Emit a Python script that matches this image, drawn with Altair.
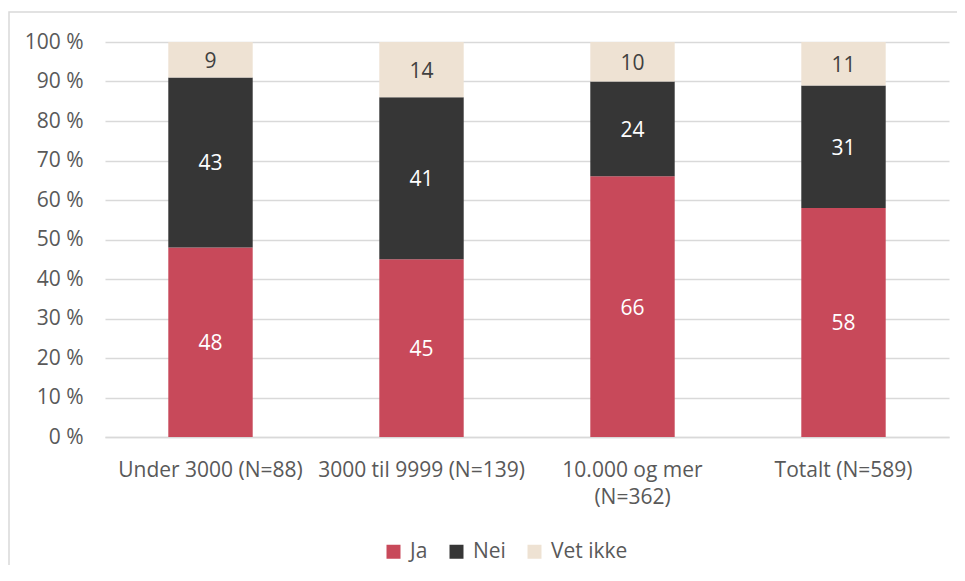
import altair as alt
import pandas as pd

categories = ["Under 3000 (N=88)", "3000 til 9999 (N=139)", "10.000 og mer|(N=362)", "Totalt (N=589)"]
series = ["Ja", "Nei", "Vet ikke"]
ja = [48, 45, 66, 58]
nei = [43, 41, 24, 31]
vet_ikke = [9, 14, 10, 11]
colors = ["#C8495A", "#363636", "#EEE2D3"]
y_ticks = [0, 10, 20, 30, 40, 50, 60, 70, 80, 90, 100]

rows = []
for s_i, (name, vals) in enumerate(zip(series, [ja, nei, vet_ikke])):
    for c, v in zip(categories, vals):
        rows.append({"cat": c, "series": name, "value": v, "ord": s_i})
df = pd.DataFrame(rows)

FONT = "Open Sans"
GRID = "#D9D9D9"
TXT = "#595959"
FS = 21

base = alt.Chart(df).transform_stack(
    stack="value", groupby=["cat"], as_=["y0", "y1"], sort=[alt.SortField("ord", order="ascending")]
).transform_calculate(mid="(datum.y0 + datum.y1) / 2")

xaxis = alt.Axis(
    title=None, labelAngle=0, domain=True, domainColor=GRID, domainWidth=1.5,
    ticks=False, grid=False, labelPadding=22, labelLineHeight=27,
    labelExpr="split(datum.label, '|')", labelFontSize=FS, labelColor=TXT,
    labelLimit=400, labelOverlap=False, labelFont=FONT,
)
yaxis = alt.Axis(
    title=None, values=y_ticks, tickCount=11, labelExpr="datum.value + ' %'",
    grid=True, gridColor=GRID, gridWidth=1.3, domain=False, ticks=False,
    labelFontSize=FS, labelColor=TXT, labelPadding=22, labelFont=FONT,
    labelOverlap=False, labelBound=False,
)
xscale = alt.Scale(paddingInner=0, paddingOuter=0)
yscale = alt.Scale(domain=[0, 100], nice=False)

bars = base.mark_bar(width=alt.RelativeBandSize(0.4)).encode(
    x=alt.X("cat:N", sort=categories, scale=xscale, axis=xaxis),
    y=alt.Y("y0:Q", scale=yscale, axis=yaxis),
    y2="y1:Q",
    color=alt.Color(
        "series:N",
        scale=alt.Scale(domain=series, range=colors),
        legend=alt.Legend(
            orient="none", legendX=278, legendY=499, direction="horizontal", title=None,
            symbolType="square", symbolSize=196, symbolStrokeWidth=0,
            labelFontSize=FS, labelColor=TXT, labelFont=FONT, columnPadding=18,
            labelOffset=6, padding=0,
        ),
    ),
)

labels = base.mark_text(fontSize=FS, font=FONT, dy=2).encode(
    x=alt.X("cat:N", sort=categories, scale=xscale, axis=xaxis),
    y=alt.Y("mid:Q", scale=yscale, axis=yaxis),
    text=alt.Text("value:Q"),
    color=alt.condition("datum.series == 'Vet ikke'", alt.value("#404040"), alt.value("white")),
)

frame = alt.Chart(pd.DataFrame({"a": [0]})).mark_rect(
    fillOpacity=0, stroke=GRID, strokeWidth=1.5
).encode(x=alt.value(-96), x2=alt.value(900), y=alt.value(-30), y2=alt.value(600))

chart = alt.layer(frame, bars, labels).properties(
    width=844, height=395,
    autosize=alt.AutoSizeParams(type="none"),
    padding={"left": 97, "top": 34, "right": 8, "bottom": 128},
).configure(font=FONT).configure_view(strokeOpacity=0, strokeWidth=0)

chart.save("out.html", embed_options={"renderer": "svg", "actions": False})
